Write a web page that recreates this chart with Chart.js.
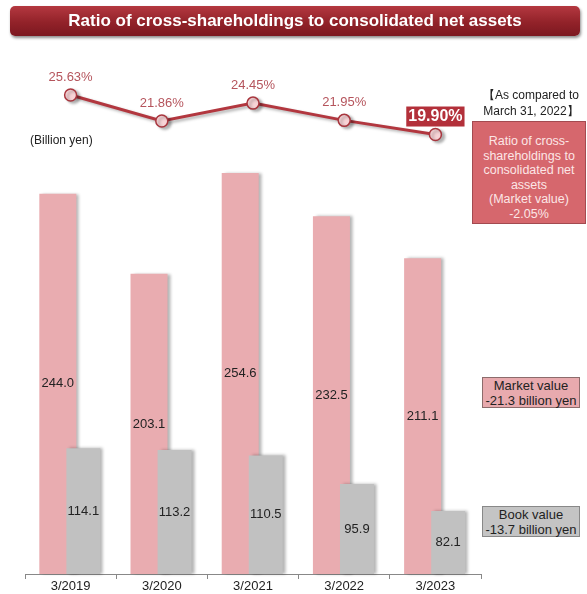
<!DOCTYPE html>
<html>
<head>
<meta charset="utf-8">
<script src="https://cdn.jsdelivr.net/npm/chart.js@4.4.1/dist/chart.umd.min.js"></script>
<style>
  html, body { margin: 0; padding: 0; background: #fff; }
  body { font-family: "Liberation Sans", Arial, sans-serif; color: #222; }
  #wrap { position: relative; width: 587px; height: 594px; overflow: hidden; }
  #chart { position: absolute; left: 0; top: 0; }
  .title {
    position: absolute; left: 10px; top: 6px; width: 570px; height: 30px;
    border-radius: 5px;
    background: linear-gradient(#b43840, #922229 55%, #7c1820);
    box-shadow: 1px 2px 3px rgba(0,0,0,0.45);
    color: #fff; font-weight: bold; font-size: 17px; line-height: 30px; text-align: center;
  }
  .note { position: absolute; font-size: 12px; line-height: 16px; white-space: nowrap; }
  .box { position: absolute; box-sizing: border-box; text-align: center; white-space: nowrap; }
  #ratioBox {
    left: 472px; top: 121px; width: 114px; height: 103px;
    background: #d6676d; border: 1px solid #a34a50; color: #fce6e6;
    font-size: 12.5px; line-height: 14.6px; padding-top: 12px;
  }
  #marketBox {
    left: 482px; top: 377px; width: 98px; height: 31px;
    background: #e8aaae; border: 1px solid #8c6c6c;
    font-size: 13px; line-height: 14.5px; padding-top: 1px;
  }
  #bookBox {
    left: 482px; top: 506px; width: 98px; height: 31px;
    background: #c4c4c4; border: 1px solid #888;
    font-size: 13px; line-height: 14.5px; padding-top: 1px;
  }
</style>
</head>
<body>
<div id="wrap">
  <canvas id="chart" width="587" height="594"></canvas>
  <div class="title">Ratio of cross-shareholdings to consolidated net assets</div>
  <div class="note" style="left:30px; top:132px;">(Billion yen)</div>
  <div class="note" style="left:478px; top:87px; width:106px; text-align:center;">【As compared to<br>March 31, 2022】</div>
  <div class="box" id="ratioBox">Ratio of cross-<br>shareholdings to<br>consolidated net<br>assets<br>(Market value)<br>-2.05%</div>
  <div class="box" id="marketBox">Market value<br>-21.3 billion yen</div>
  <div class="box" id="bookBox">Book value<br>-13.7 billion yen</div>
</div>
<script>
// Données (milliards de yens / %)
const categories = ['3/2019', '3/2020', '3/2021', '3/2022', '3/2023'];
const marketValue = [244.0, 203.1, 254.6, 232.5, 211.1];
const bookValue = [114.1, 113.2, 110.5, 95.9, 82.1];
const crossRatio = [25.63, 21.86, 24.45, 21.95, 19.90];

// L'axe des barres ne commence pas à zéro dans l'original
const Y_MIN = 50;
const Y_MAX = 312.2;

const FONT = '"Liberation Sans", Arial, sans-serif';

// Étiquettes des barres et de la courbe
function drawLabels(chart) {
    const ctx = chart.ctx;
    ctx.save();
    ctx.textAlign = 'center';
    ctx.textBaseline = 'middle';
    ctx.font = '13px ' + FONT;
    ctx.fillStyle = '#222';
    [marketValue, bookValue].forEach((values, di) => {
        chart.getDatasetMeta(di).data.forEach((bar, i) => {
            const p = bar.getProps(['x', 'y', 'base'], true);
            ctx.fillText(values[i].toFixed(1), p.x, (p.y + p.base) / 2);
        });
    });
    chart.getDatasetMeta(2).data.forEach((pt, i) => {
        const text = crossRatio[i].toFixed(2) + '%';
        const y = pt.y - 18;
        if (i === crossRatio.length - 1) {
            ctx.font = 'bold 16px ' + FONT;
            const w = ctx.measureText(text).width;
            ctx.fillStyle = '#b3303a';
            ctx.fillRect(pt.x - w / 2 - 2, y - 10, w + 4, 20);
            ctx.fillStyle = '#fff';
        } else {
            ctx.font = '13px ' + FONT;
            ctx.fillStyle = '#b5545c';
        }
        ctx.fillText(text, pt.x, y);
    });
    ctx.restore();
}

// Ordre de dessin : valeur de marché, valeur comptable, puis la courbe, avec ombre
const drawOrder = {
    id: 'drawOrder',
    beforeDatasetsDraw(chart) {
        const ctx = chart.ctx;
        [0, 1, 2].forEach(i => {
            ctx.save();
            ctx.shadowColor = 'rgba(0,0,0,0.3)';
            ctx.shadowOffsetX = 3;
            ctx.shadowOffsetY = i === 2 ? 2 : 0;
            ctx.shadowBlur = 3;
            chart.getDatasetMeta(i).controller.draw();
            ctx.restore();
        });
        drawLabels(chart);
        return false;
    }
};

new Chart(document.getElementById('chart'), {
    data: {
        labels: categories,
        datasets: [{
            type: 'bar',
            label: 'Market value',
            data: marketValue,
            base: Y_MIN,
            backgroundColor: '#e9acb0',
            categoryPercentage: 0.56,
            barPercentage: 1.45,
            yAxisID: 'y'
        }, {
            type: 'bar',
            label: 'Book value',
            data: bookValue,
            base: Y_MIN,
            backgroundColor: '#c1c1c1',
            categoryPercentage: 0.56,
            barPercentage: 1.33,
            yAxisID: 'y'
        }, {
            type: 'line',
            label: 'Ratio',
            data: crossRatio,
            borderColor: '#b2373f',
            borderWidth: 3,
            tension: 0,
            pointRadius: 6,
            pointBackgroundColor: '#f7d3d6',
            pointBorderColor: '#a8363e',
            pointBorderWidth: 1.5,
            yAxisID: 'y2'
        }]
    },
    options: {
        responsive: false,
        animation: false,
        layout: { padding: { left: 25, right: 106, top: 60, bottom: 0 } },
        plugins: {
            legend: { display: false },
            tooltip: { enabled: false }
        },
        scales: {
            x: {
                grid: { drawOnChartArea: false, tickLength: 5, color: '#888' },
                border: { color: '#888' },
                ticks: { color: '#222', font: { size: 13, family: FONT }, padding: 0 },
                afterFit: s => { s.height = 20; }
            },
            y: { display: false, beginAtZero: false, min: Y_MIN, max: Y_MAX },
            y2: { display: false, position: 'right', min: -43.8, max: 30.7 }
        }
    },
    plugins: [drawOrder]
});
</script>
</body>
</html>
